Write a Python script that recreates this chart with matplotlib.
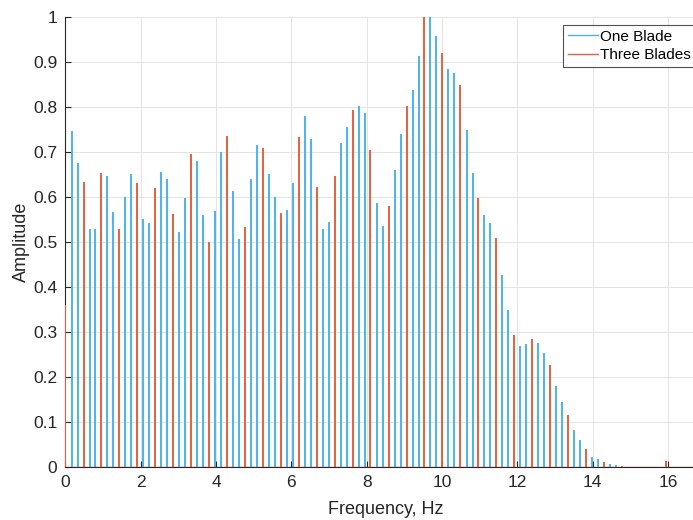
import numpy as np
import matplotlib
matplotlib.use("Agg")
import matplotlib.pyplot as plt
from matplotlib.ticker import MultipleLocator, FuncFormatter

plt.rcParams['font.family'] = ['Liberation Sans', 'DejaVu Sans']

# One blade: harmonics of the rotor frequency (every order except multiples of 3,
# those sit under the three-blade lines)
one_blade_freq = [0.16, 0.32, 0.64, 0.79, 1.11, 1.27, 1.59, 1.75, 2.07, 2.22,
                  2.54, 2.70, 3.02, 3.18, 3.50, 3.65, 3.97, 4.13, 4.45, 4.61,
                  4.93, 5.08, 5.40, 5.56, 5.88, 6.04, 6.36, 6.51, 6.83, 6.99,
                  7.31, 7.47, 7.79, 7.95, 8.26, 8.42, 8.74, 8.90, 9.22, 9.38,
                  9.69, 9.85, 10.17, 10.33, 10.65, 10.81, 11.12, 11.28, 11.60, 11.76,
                  12.08, 12.24, 12.55, 12.71, 13.03, 13.19, 13.51, 13.67, 13.98, 14.14,
                  14.46, 14.62, 15.96]
one_blade_amp = [0.747, 0.675, 0.530, 0.530, 0.647, 0.567, 0.600, 0.652, 0.551, 0.542,
                 0.656, 0.639, 0.523, 0.597, 0.680, 0.560, 0.569, 0.700, 0.614, 0.507,
                 0.640, 0.716, 0.651, 0.600, 0.571, 0.632, 0.781, 0.730, 0.528, 0.545,
                 0.719, 0.756, 0.802, 0.786, 0.586, 0.536, 0.659, 0.739, 0.838, 0.913,
                 1.000, 0.958, 0.884, 0.875, 0.749, 0.653, 0.561, 0.543, 0.427, 0.349,
                 0.270, 0.273, 0.275, 0.254, 0.179, 0.145, 0.082, 0.059, 0.023, 0.017,
                 0.006, 0.004, 0.013]

# Three blades: blade-passing harmonics
three_blade_freq = [0.0, 0.48, 0.95, 1.43, 1.91, 2.38, 2.86, 3.34, 3.81, 4.29, 4.77,
                    5.24, 5.72, 6.20, 6.67, 7.15, 7.63, 8.10, 8.58, 9.06, 9.53,
                    10.01, 10.49, 10.96, 11.44, 11.92, 12.39, 12.87, 13.35, 13.82, 14.30,
                    14.78, 15.96]
three_blade_amp = [0.36, 0.634, 0.654, 0.528, 0.632, 0.621, 0.562, 0.696, 0.499, 0.736, 0.534,
                   0.710, 0.564, 0.734, 0.623, 0.647, 0.793, 0.704, 0.580, 0.802, 1.000,
                   0.921, 0.850, 0.597, 0.508, 0.293, 0.284, 0.227, 0.116, 0.041, 0.012,
                   0.002, 0.013]

blue = '#4AB4EA'
red = '#E4603E'

fig = plt.figure(figsize=(6.93, 5.20), dpi=100)
ax = fig.add_axes([0.0945, 0.1019, 0.9237, 0.8654])

ax.vlines(one_blade_freq, 0, one_blade_amp, color=blue, lw=1.4, zorder=3)
ax.vlines(three_blade_freq, 0, three_blade_amp, color=red, lw=1.4, zorder=4)
ax.axhline(0, color=red, lw=1.0, zorder=4)

ax.set_xlim(0, 17)
ax.set_ylim(0, 1)
ax.xaxis.set_major_locator(MultipleLocator(2))
ax.yaxis.set_major_locator(MultipleLocator(0.1))
ax.yaxis.set_major_formatter(FuncFormatter(lambda v, p: f"{v:.10g}" if abs(v) > 1e-9 else "0"))

ax.grid(True, color='#e4e4e4', lw=0.7, zorder=0)
ax.set_axisbelow(True)
for s in ['top', 'right']:
    ax.spines[s].set_visible(False)
for s in ['left', 'bottom']:
    ax.spines[s].set_color('#262626')
    ax.spines[s].set_linewidth(0.8)
ax.tick_params(direction='in', length=4, width=0.8, color='#262626',
               labelsize=12.5, labelcolor='#262626', pad=6)

ax.set_xlabel("Frequency, Hz", fontsize=13, color='#262626', labelpad=8)
ax.set_ylabel("Amplitude", fontsize=13, color='#262626', labelpad=2)

h1, = ax.plot([], [], color=blue, lw=1.0, label="One Blade")
h2, = ax.plot([], [], color=red, lw=1.0, label="Three Blades")
leg = fig.legend(handles=[h1, h2], loc='upper left', bbox_to_anchor=(0.8125, 0.952),
                 fontsize=11, frameon=True, fancybox=False, borderaxespad=0,
                 borderpad=0.3, handlelength=2.0, handletextpad=0.15, labelspacing=0.3)
leg.get_frame().set_edgecolor('#262626')
leg.get_frame().set_linewidth(0.8)

fig.savefig("out.png", dpi=100)
